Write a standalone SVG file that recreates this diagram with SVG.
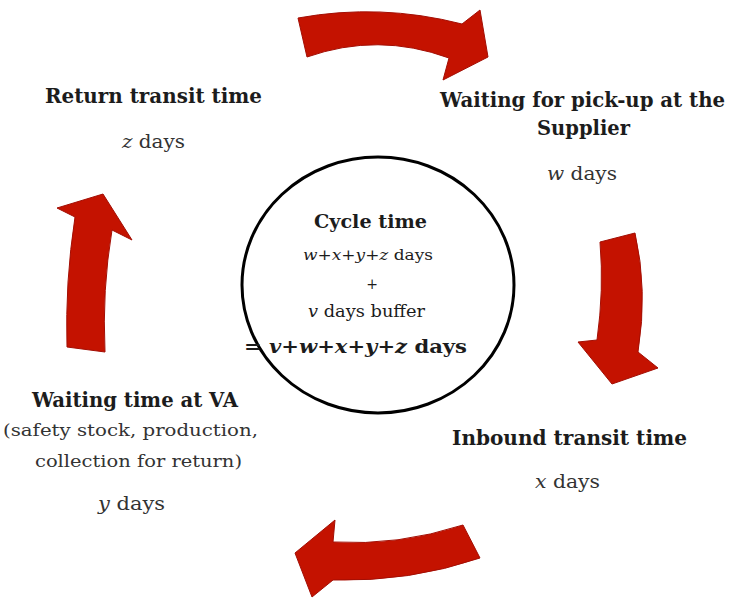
<svg xmlns="http://www.w3.org/2000/svg" width="731" height="599" viewBox="0 0 731 599">
  <style>
    text { font-family: "DejaVu Serif", "Liberation Serif", serif; fill: #1c1c1c; text-anchor: middle; }
    .title { font-weight: bold; font-size: 20px; }
    .days { font-size: 18px; fill: #333; }
    .note { font-size: 17px; fill: #333; }
    .var { font-style: italic; }
    .arrow { fill: #c41200; stroke: #a30e04; stroke-width: 1; stroke-linejoin: round; }
    .hub { fill: #fff; stroke: #000; stroke-width: 3; }
  </style>
  <rect width="731" height="599" fill="#fff"/>

  <!-- curved arrows running clockwise between the stages -->
  <g id="connectors">
    <path class="arrow" d="M 298,18 Q 380,3 462,24 L 480,10 L 488,57 L 443,80 L 449,58 Q 378,32 307,57 Z"/>
    <path class="arrow" d="M 600,242 L 635,233 Q 648,290 638,352 L 658,368 L 612,384 L 578,342 L 597,340 Q 604,290 600,242 Z"/>
    <path class="arrow" d="M 463,525 L 480,558 Q 410,582 333,580 L 312,597 L 295,553 L 335,520 L 333,542 Q 398,546 463,525 Z"/>
    <path class="arrow" d="M 67,347 Q 65,282 75,217 L 57,208 L 103,194 L 132,240 L 112,230 Q 102,290 105,352 Z"/>
  </g>

  <g id="cycle-time">
    <ellipse class="hub" cx="378" cy="285" rx="136" ry="128"/>
    <text class="title" x="370.5" y="228" style="font-size:19px" textLength="113" lengthAdjust="spacingAndGlyphs">Cycle time</text>
    <text x="368" y="260" style="font-size:15px" textLength="130" lengthAdjust="spacingAndGlyphs"><tspan class="var">w</tspan>+<tspan class="var">x</tspan>+<tspan class="var">y</tspan>+<tspan class="var">z</tspan> days</text>
    <text x="372" y="289" style="font-size:14px">+</text>
    <text x="366.5" y="317" style="font-size:17px" textLength="117" lengthAdjust="spacingAndGlyphs"><tspan class="var">v</tspan> days buffer</text>
    <text x="355.5" y="353" style="font-size:19px;font-weight:bold" textLength="223" lengthAdjust="spacingAndGlyphs">= <tspan class="var">v</tspan>+<tspan class="var">w</tspan>+<tspan class="var">x</tspan>+<tspan class="var">y</tspan>+<tspan class="var">z</tspan>  days</text>
  </g>

  <g id="supplier-wait">
    <text class="title" x="582.5" y="107" textLength="285" lengthAdjust="spacingAndGlyphs">Waiting for pick-up at the</text>
    <text class="title" x="583.5" y="135" textLength="93" lengthAdjust="spacingAndGlyphs">Supplier</text>
    <text class="days" x="582" y="180" textLength="70" lengthAdjust="spacingAndGlyphs"><tspan class="var">w</tspan> days</text>
  </g>

  <g id="inbound-transit">
    <text class="title" x="569.5" y="445" textLength="235" lengthAdjust="spacingAndGlyphs">Inbound transit time</text>
    <text class="days" x="567.5" y="488" textLength="65" lengthAdjust="spacingAndGlyphs"><tspan class="var">x</tspan> days</text>
  </g>

  <g id="va-wait">
    <text class="title" x="135" y="407" textLength="206" lengthAdjust="spacingAndGlyphs">Waiting time at VA</text>
    <text class="note" x="130.5" y="436" textLength="255" lengthAdjust="spacingAndGlyphs">(safety stock, production,</text>
    <text class="note" x="138.5" y="467" textLength="207" lengthAdjust="spacingAndGlyphs">collection for return)</text>
    <text class="days" x="131.5" y="510" textLength="67" lengthAdjust="spacingAndGlyphs"><tspan class="var">y</tspan> days</text>
  </g>

  <g id="return-transit">
    <text class="title" x="153.5" y="103" textLength="217" lengthAdjust="spacingAndGlyphs">Return transit time</text>
    <text class="days" x="153.5" y="148" textLength="63" lengthAdjust="spacingAndGlyphs"><tspan class="var">z</tspan> days</text>
  </g>
</svg>
